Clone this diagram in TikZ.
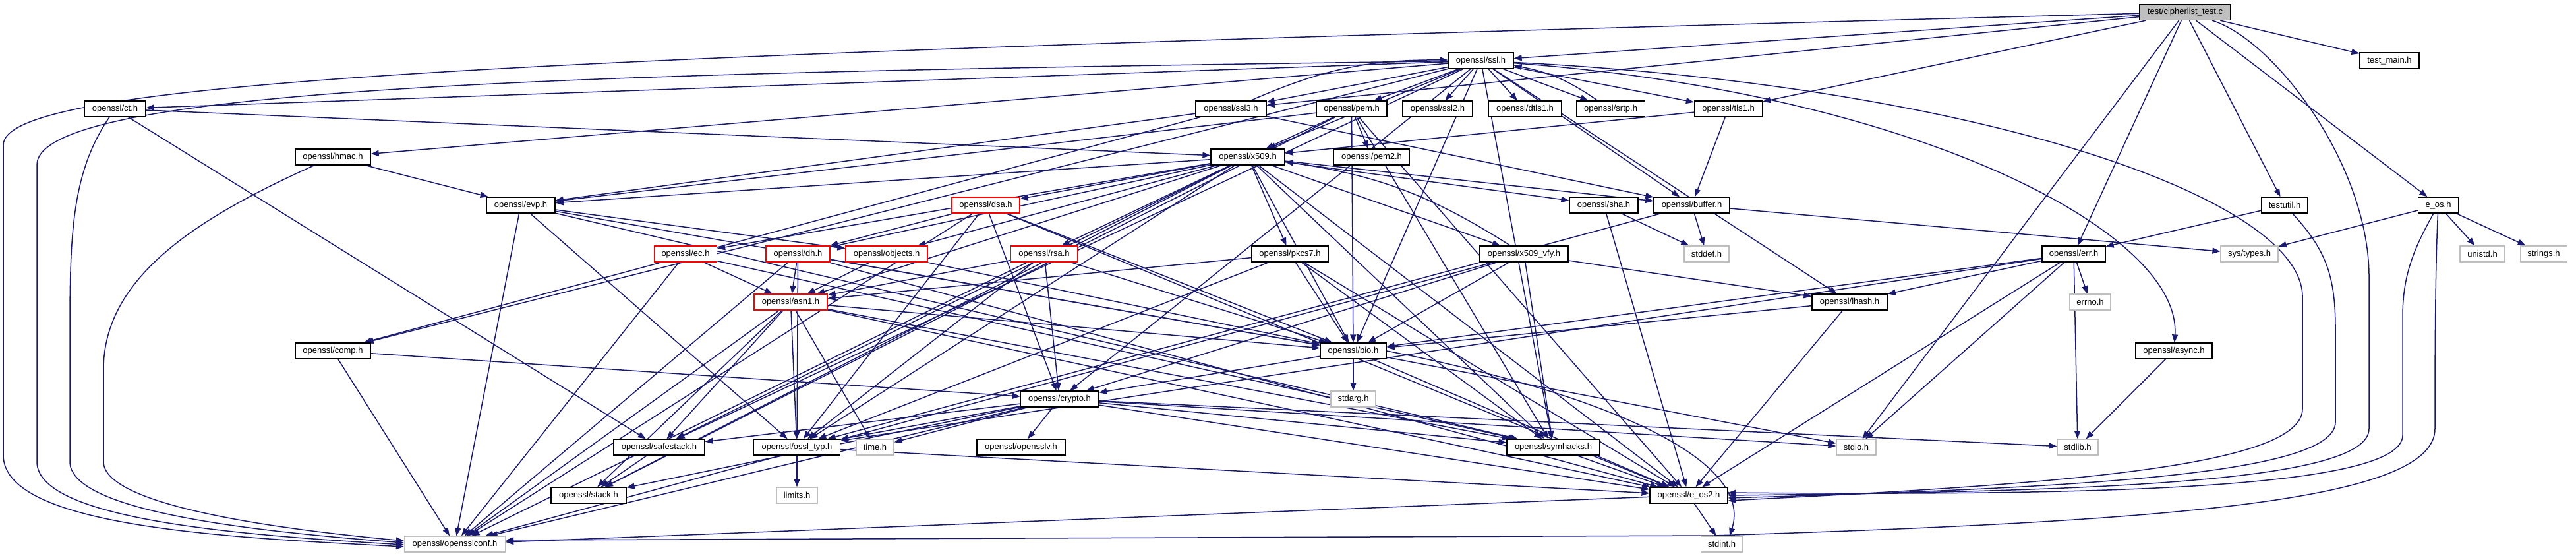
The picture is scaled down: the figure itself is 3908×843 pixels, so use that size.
\documentclass[tikz,border=0pt]{standalone}
\usepackage{fontspec}
\setmainfont{Liberation Sans}
\usetikzlibrary{arrows.meta}
\pgfdeclarelayer{bg}
\pgfsetlayers{bg,main}
\definecolor{edgeblue}{RGB}{25,25,112}
\definecolor{sysgray}{RGB}{191,191,191}
\definecolor{rootfill}{RGB}{191,191,191}
\tikzset{
  hnode/.style={draw=black, fill=white, line width=1.3pt, minimum height=24pt, inner sep=0pt, font=\fontsize{13}{15}\selectfont},
  sysnode/.style={hnode, draw=sysgray},
  trunc/.style={hnode, draw=red},
  rootnode/.style={hnode, fill=rootfill},
  dep/.style={draw=edgeblue, line width=1.5pt, -{Triangle[length=12pt,width=9pt]}}
}
\begin{document}
\begin{tikzpicture}[x=1pt,y=-1pt]
\useasboundingbox (0,0) rectangle (3908,843);
\begin{pgfonlayer}{bg}
\fill[white] (0,0) rectangle (3908,843);
\end{pgfonlayer}
% rank 0
\node[rootnode, minimum width=138pt] (root) at (3315,18.5) {test/cipherlist\_test.c};
% rank 1
\node[hnode, minimum width=99pt] (ssl) at (2246.5,92) {openssl/ssl.h};
\node[hnode, minimum width=90pt] (testmain) at (3625,92) {test\_main.h};
% rank 2
\node[hnode, minimum width=93pt] (ct) at (174.5,165) {openssl/ct.h};
\node[hnode, minimum width=107pt] (ssl3) at (1867.5,165) {openssl/ssl3.h};
\node[hnode, minimum width=107pt] (pem) at (2050.5,165) {openssl/pem.h};
\node[hnode, minimum width=106pt] (ssltwo) at (2181,165) {openssl/ssl2.h};
\node[hnode, minimum width=111pt] (dtls) at (2313.5,165) {openssl/dtls1.h};
\node[hnode, minimum width=104pt] (srtp) at (2443.5,165) {openssl/srtp.h};
\node[hnode, minimum width=103pt] (tls1) at (2622,165) {openssl/tls1.h};
% rank 3
\node[hnode, minimum width=114pt] (hmac) at (505,238) {openssl/hmac.h};
\node[hnode, minimum width=112pt] (x509) at (1893,238) {openssl/x509.h};
\node[hnode, minimum width=115pt] (pemtwo) at (2081,238) {openssl/pem2.h};
% rank 4
\node[hnode, minimum width=104pt] (evp) at (790,311) {openssl/evp.h};
\node[trunc, minimum width=103pt] (dsa) at (1495.5,311) {openssl/dsa.h};
\node[hnode, minimum width=104pt] (sha) at (2433,311) {openssl/sha.h};
\node[hnode, minimum width=115pt] (buffer) at (2566.5,311) {openssl/buffer.h};
\node[hnode, minimum width=70pt] (testutil) at (3466,311) {testutil.h};
\node[hnode, minimum width=61pt] (eos) at (3699,311) {e\_os.h};
% rank 5
\node[trunc, minimum width=95pt] (ec) at (1040,385) {openssl/ec.h};
\node[trunc, minimum width=97pt] (dh) at (1210.5,385) {openssl/dh.h};
\node[trunc, minimum width=124pt] (objects) at (1345,385) {openssl/objects.h};
\node[trunc, minimum width=101pt] (rsa) at (1584,385) {openssl/rsa.h};
\node[hnode, minimum width=117pt] (pkcs7) at (1957,385) {openssl/pkcs7.h};
\node[hnode, minimum width=134pt] (xvfy) at (2312,385) {openssl/x509\_vfy.h};
\node[sysnode, minimum width=68pt] (stddef) at (2589,385) {stddef.h};
\node[hnode, minimum width=96pt] (err) at (3146,385) {openssl/err.h};
\node[sysnode, minimum width=87pt] (systypes) at (3412.5,385) {sys/types.h};
\node[sysnode, minimum width=68pt] (unistd) at (3766,385) {unistd.h};
\node[sysnode, minimum width=71pt] (strings) at (3859,385) {strings.h};
% rank 6
\node[trunc, minimum width=111pt] (asn1) at (1199.5,458) {openssl/asn1.h};
\node[hnode, minimum width=114pt] (lhash) at (2806,458) {openssl/lhash.h};
\node[sysnode, minimum width=62pt] (errno) at (3171,458) {errno.h};
% rank 7
\node[hnode, minimum width=114pt] (comp) at (505,532) {openssl/comp.h};
\node[hnode, minimum width=100pt] (bio) at (2053,532) {openssl/bio.h};
\node[hnode, minimum width=116pt] (async) at (3298,532) {openssl/async.h};
% rank 8
\node[hnode, minimum width=118pt] (crypto) at (1607.5,605) {openssl/crypto.h};
\node[sysnode, minimum width=68pt] (stdarg) at (2053,605) {stdarg.h};
% rank 9
\node[hnode, minimum width=138pt] (safestack) at (1000,678) {openssl/safestack.h};
\node[hnode, minimum width=131pt] (ossltyp) at (1209,678) {openssl/ossl\_typ.h};
\node[sysnode, minimum width=57pt] (time) at (1327.5,678) {time.h};
\node[hnode, minimum width=134pt] (opensslv) at (1549,678) {openssl/opensslv.h};
\node[hnode, minimum width=141pt] (symhacks) at (2356.5,678) {openssl/symhacks.h};
\node[sysnode, minimum width=60pt] (stdio) at (2816,678) {stdio.h};
\node[sysnode, minimum width=62pt] (stdlib) at (3152,678) {stdlib.h};
% rank 10
\node[hnode, minimum width=114pt] (stack) at (893,751) {openssl/stack.h};
\node[sysnode, minimum width=62pt] (limits) at (1209,751) {limits.h};
\node[hnode, minimum width=118pt] (eos2) at (2562,751) {openssl/e\_os2.h};
% rank 11
\node[sysnode, minimum width=153pt] (opensslconf) at (690,825) {openssl/opensslconf.h};
\node[sysnode, minimum width=63pt] (stdint) at (2612,825) {stdint.h};

\begin{pgfonlayer}{bg}
\foreach \s/\t in {
 root/ssl, root/ssl3, root/tls1, root/err, root/stdio, root/testutil, root/testmain, root/eos,
 ssl/ct, ssl/hmac, ssl/comp, ssl/x509, ssl/ssl3, ssl/pem, ssl/ssltwo, ssl/dtls, ssl/srtp, ssl/tls1,
 ssl/buffer, ssl/crypto, ssl/bio, ssl/lhash, ssl/safestack, ssl/symhacks,
 ssl3/comp, ssl3/buffer, ssl3/evp,
 tls1/buffer, tls1/x509,
 pem/eos2, pem/bio, pem/stack, pem/evp, pem/x509, pem/pemtwo, pem/symhacks,
 ct/safestack, ct/x509,
 hmac/evp,
 comp/crypto, comp/opensslconf,
 evp/opensslconf, evp/ossltyp, evp/symhacks, evp/bio, evp/objects,
 x509/eos2, x509/ossltyp, x509/symhacks, x509/buffer, x509/evp, x509/bio, x509/stack, x509/asn1,
 x509/safestack, x509/ec, x509/rsa, x509/dsa, x509/dh, x509/sha, x509/xvfy, x509/pkcs7, x509/objects,
 xvfy/opensslconf, xvfy/lhash, xvfy/bio, xvfy/crypto, xvfy/symhacks,
 dsa/opensslconf, dsa/eos2, dsa/bio, dsa/crypto, dsa/ossltyp, dsa/dh,
 dh/opensslconf, dh/eos2, dh/bio, dh/asn1, dh/ossltyp,
 rsa/opensslconf, rsa/asn1, rsa/bio, rsa/crypto, rsa/ossltyp,
 ec/opensslconf, ec/asn1, ec/symhacks,
 pkcs7/asn1, pkcs7/bio, pkcs7/eos2, pkcs7/symhacks, pkcs7/ossltyp,
 objects/bio, objects/asn1,
 asn1/time, asn1/eos2, asn1/opensslconf, asn1/bio, asn1/stack, asn1/safestack, asn1/symhacks, asn1/ossltyp,
 sha/eos2, sha/stddef,
 buffer/ossltyp, buffer/stddef, buffer/systypes,
 bio/eos2, bio/stdio, bio/stdarg, bio/crypto,
 crypto/stdlib, crypto/time, crypto/eos2, crypto/stdio, crypto/stack, crypto/safestack,
 crypto/opensslv, crypto/ossltyp, crypto/opensslconf, crypto/symhacks,
 safestack/stack,
 ossltyp/eos2, ossltyp/limits,
 eos2/opensslconf, eos2/stdint,
 symhacks/eos2,
 lhash/eos2, lhash/bio,
 err/eos2, err/stdio, err/stdlib, err/ossltyp, err/bio, err/lhash, err/errno,
 async/stdlib,
 testutil/err,
 eos/systypes, eos/unistd, eos/strings}
 \draw[dep] (\s) -- (\t);
% back edges of cycles
\draw[dep] (ssl3) to[bend left=12] (ssl);
\draw[dep] (srtp) to[bend right=12] (ssl);
\draw[dep] (xvfy) to[bend right=12] (x509);
% routed edges
\draw[dep] (root) .. controls (800,85) and (5,120) .. (5,220) -- (5,690) .. controls (5,800) and (350,815) .. ([yshift=-4pt]opensslconf.west);
\draw[dep] (ssl) .. controls (900,110) and (56,130) .. (56,250) -- (56,700) .. controls (56,790) and (380,812) .. ([yshift=-1pt]opensslconf.west);
\draw[dep] (ct) .. controls (110,260) and (106,350) .. (106,500) -- (106,700) .. controls (106,780) and (420,808) .. ([yshift=2pt]opensslconf.west);
\draw[dep] (hmac) .. controls (300,330) and (157,420) .. (157,560) -- (157,700) .. controls (157,770) and (450,805) .. ([yshift=5pt]opensslconf.west);
\draw[dep] (ssl) .. controls (3000,130) and (3493,300) .. (3493,450) -- (3493,620) .. controls (3493,710) and (3100,735) .. ([yshift=-8pt]eos2.east);
\draw[dep] (testutil) .. controls (3530,380) and (3543,420) .. (3543,500) -- (3543,640) .. controls (3543,720) and (3150,740) .. ([yshift=-4pt]eos2.east);
\draw[dep] (root) .. controls (3450,60) and (3594,250) .. (3594,420) -- (3594,650) .. controls (3594,730) and (3200,745) .. (eos2.east);
\draw[dep] (eos) .. controls (3660,380) and (3645,420) .. (3645,480) -- (3645,660) .. controls (3645,740) and (3200,752) .. ([yshift=4pt]eos2.east);
\draw[dep] (eos) .. controls (3694,420) and (3694,560) .. (3694,650) .. controls (3694,760) and (3300,790) .. (2600,812) -- ([yshift=6pt]opensslconf.east);
\draw[dep] (ssl) .. controls (2900,140) and (3310,350) .. (async);
\draw[dep] (bio.east) .. controls (2450,600) and (2660,700) .. ([xshift=12pt]stdint.north);
\end{pgfonlayer}
\end{tikzpicture}
\end{document}
